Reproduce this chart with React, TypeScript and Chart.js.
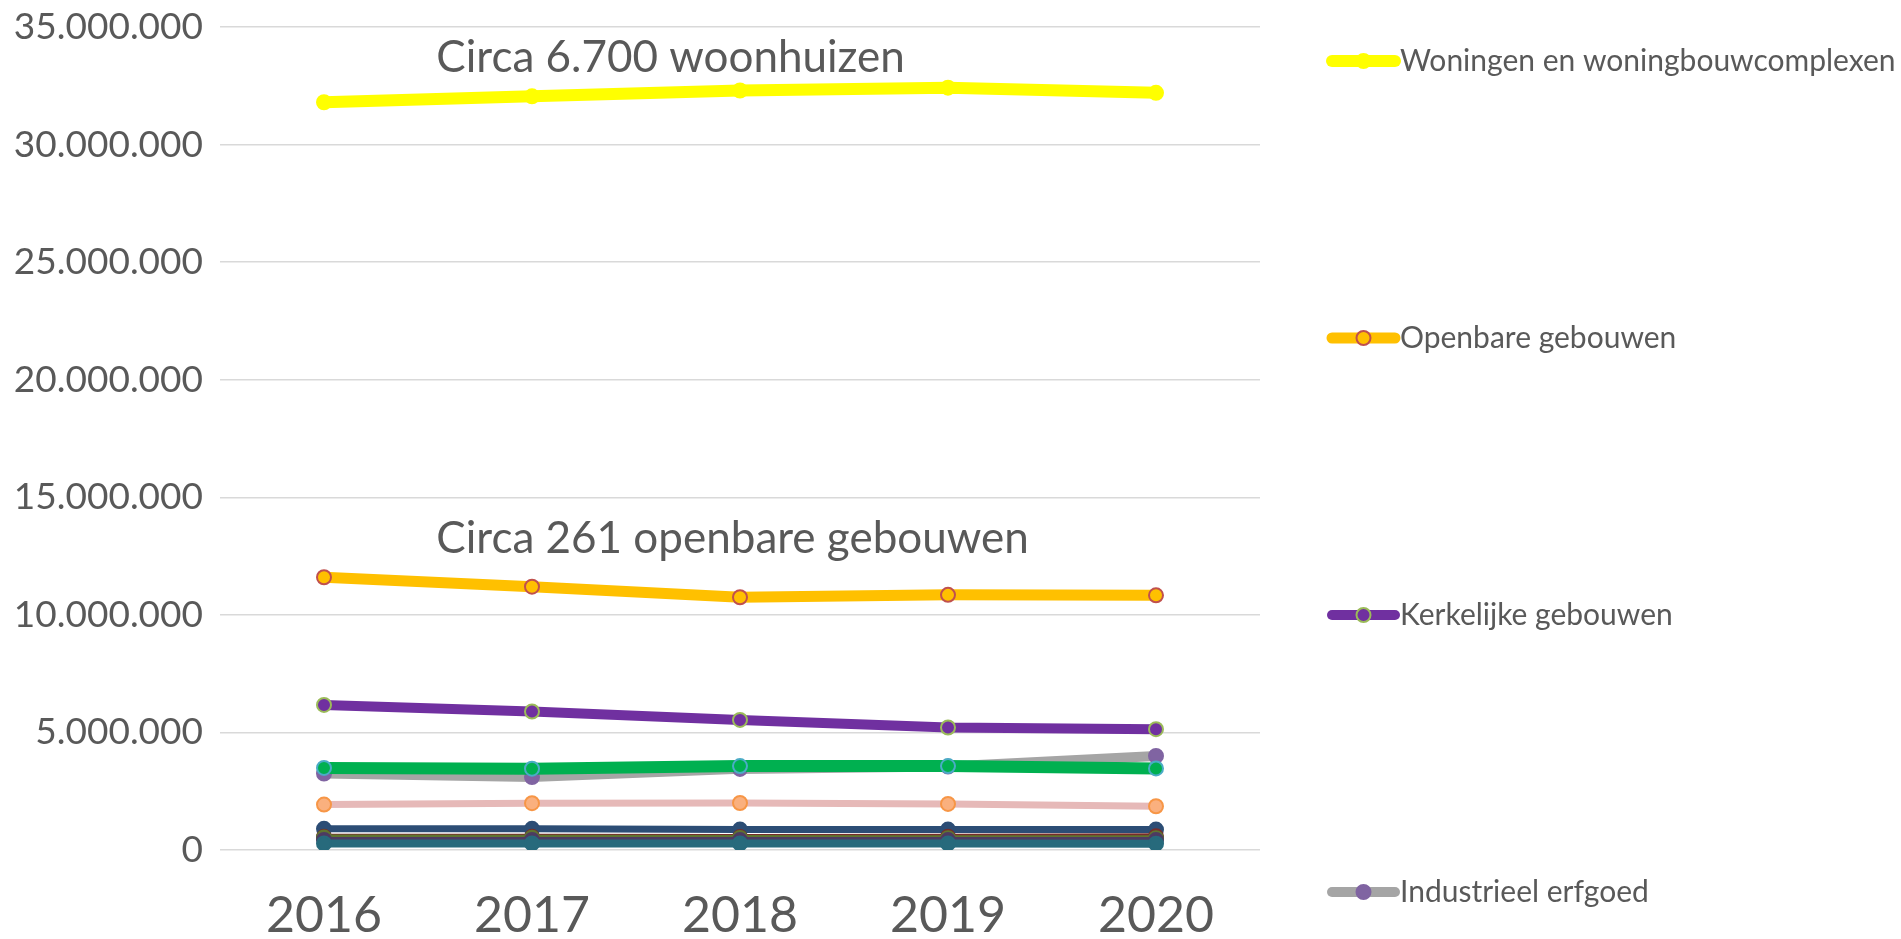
import React, { useEffect, useRef } from "react";
import { Chart, registerables } from "chart.js";

Chart.register(...registerables);

const years = ["2016", "2017", "2018", "2019", "2020"];

const woningen = [31800000, 32050000, 32300000, 32420000, 32200000];
const openbare = [11600000, 11200000, 10750000, 10850000, 10830000];
const kerkelijke = [6170000, 5890000, 5530000, 5210000, 5140000];
const industrieel = [3250000, 3100000, 3450000, 3550000, 4000000];
const groen = [3490000, 3460000, 3570000, 3570000, 3470000];
const roze = [1930000, 1990000, 2000000, 1960000, 1860000];
const donkerblauw = [900000, 900000, 870000, 870000, 870000];
const donkerrood = [560000, 560000, 550000, 560000, 580000];
const olijf = [530000, 520000, 510000, 500000, 500000];
const donkerpaars = [430000, 430000, 420000, 420000, 420000];
const teal = [280000, 280000, 280000, 280000, 270000];

const yTicks = [0, 5000000, 10000000, 15000000, 20000000, 25000000, 30000000, 35000000];

const legendCount = 4;

const annotationTexts = ["Circa 6.700 woonhuizen", "Circa 261 openbare gebouwen"];
const annotationX = [0.54, 0.54];
const annotationY = [33700000, 13250000];

const TEXT = "#595959";

function fmt(v: number): string {
  return Math.round(v)
    .toString()
    .replace(/\B(?=(\d{3})+(?!\d))/g, ".");
}

const seriesDefs = [
  { label: "Woningen en woningbouwcomplexen", data: woningen, line: "#FFFF00", fill: "#FFFF00", border: "#FFFF00", width: 12 },
  { label: "Openbare gebouwen", data: openbare, line: "#FFC000", fill: "#FFC000", border: "#C0504D", width: 11 },
  { label: "Kerkelijke gebouwen", data: kerkelijke, line: "#7030A0", fill: "#7030A0", border: "#9BBB59", width: 10 },
  { label: "Industrieel erfgoed", data: industrieel, line: "#A5A5A5", fill: "#8064A2", border: "#8064A2", width: 10 },
  { label: "Kastelen en buitenplaatsen", data: groen, line: "#00B050", fill: "#00B050", border: "#4BACC6", width: 12 },
  { label: "Boerderijen", data: roze, line: "#E6B9B8", fill: "#FAB07E", border: "#F79646", width: 7 },
  { label: "Molens", data: donkerblauw, line: "#2C4D75", fill: "#2C4D75", border: "#2C4D75", width: 7 },
  { label: "Militaire objecten", data: donkerrood, line: "#772C2A", fill: "#772C2A", border: "#772C2A", width: 6 },
  { label: "Infrastructuur", data: olijf, line: "#5F7530", fill: "#5F7530", border: "#5F7530", width: 6 },
  { label: "Archeologie", data: donkerpaars, line: "#4D3B62", fill: "#4D3B62", border: "#4D3B62", width: 6 },
  { label: "Overig", data: teal, line: "#276A7C", fill: "#276A7C", border: "#276A7C", width: 8 },
];

const annotationPlugin = {
  id: "annotText",
  afterDatasetsDraw(chart: any) {
    const ctx = chart.ctx;
    const xs = chart.scales.x;
    const ys = chart.scales.y;
    ctx.save();
    ctx.font = "44px Lato";
    ctx.fillStyle = TEXT;
    ctx.textAlign = "left";
    ctx.textBaseline = "middle";
    annotationTexts.forEach((t, i) => {
      ctx.fillText(t, xs.getPixelForValue(annotationX[i]), ys.getPixelForValue(annotationY[i]));
    });
    ctx.restore();
  },
};

const legendPlugin = {
  id: "customLegend",
  afterDraw(chart: any) {
    const ctx = chart.ctx;
    const area = chart.chartArea;
    const x0 = area.right + 72;
    const x1 = area.right + 135;
    const top = 61;
    const step = 277;
    ctx.save();
    chart.data.datasets.slice(0, legendCount).forEach((ds: any, i: number) => {
      const y = top + i * step;
      ctx.strokeStyle = ds.borderColor;
      ctx.lineWidth = ds.borderWidth;
      ctx.lineCap = "round";
      ctx.beginPath();
      ctx.moveTo(x0, y);
      ctx.lineTo(x1, y);
      ctx.stroke();
      ctx.beginPath();
      ctx.arc((x0 + x1) / 2, y, 7, 0, Math.PI * 2);
      ctx.fillStyle = ds.pointBackgroundColor;
      ctx.fill();
      ctx.lineWidth = 2;
      ctx.strokeStyle = ds.pointBorderColor;
      ctx.stroke();
      ctx.font = "30px Lato";
      ctx.fillStyle = TEXT;
      ctx.textAlign = "left";
      ctx.textBaseline = "middle";
      ctx.fillText(ds.label, x1 + 5, y);
    });
    ctx.restore();
  },
};

export default function App() {
  const ref = useRef<HTMLCanvasElement | null>(null);
  useEffect(() => {
    if (!ref.current) return;
    const n = seriesDefs.length;
    const chart = new Chart(ref.current, {
      type: "line",
      data: {
        labels: years,
        datasets: seriesDefs.map((s, i) => ({
          label: s.label,
          data: s.data,
          borderColor: s.line,
          backgroundColor: s.line,
          borderWidth: s.width,
          pointRadius: 7,
          pointBorderWidth: 2,
          pointBackgroundColor: s.fill,
          pointBorderColor: s.border,
          tension: 0,
          order: n - i,
          fill: false,
        })),
      },
      options: {
        animation: false,
        responsive: true,
        maintainAspectRatio: false,
        layout: { padding: { top: 27, right: 641, bottom: 0, left: 0 } },
        plugins: {
          legend: { display: false },
          tooltip: { enabled: false },
        },
        scales: {
          x: {
            offset: true,
            grid: { display: false, drawTicks: false },
            border: { display: false },
            ticks: { color: TEXT, font: { family: "Lato", size: 50 }, padding: 36 },
            afterFit: (s: any) => {
              s.height = 89;
            },
          },
          y: {
            min: 0,
            max: 35000000,
            afterBuildTicks: (s: any) => {
              s.ticks = yTicks.map((v) => ({ value: v }));
            },
            grid: { color: "#D9D9D9", lineWidth: 1.5, drawTicks: false },
            border: { display: false },
            ticks: {
              color: TEXT,
              font: { family: "Lato", size: 37 },
              padding: 17,
              callback: (v: any) => fmt(Number(v)),
            },
            afterFit: (s: any) => {
              s.width = 220;
              s.paddingTop = 0;
              s.paddingBottom = 0;
            },
          },
        },
      },
      plugins: [annotationPlugin, legendPlugin],
    });
    return () => chart.destroy();
  }, []);
  return (
    <div style={{ position: "absolute", left: 0, top: 0, width: 1901, height: 939, background: "#fff" }}>
      <canvas ref={ref} />
    </div>
  );
}
